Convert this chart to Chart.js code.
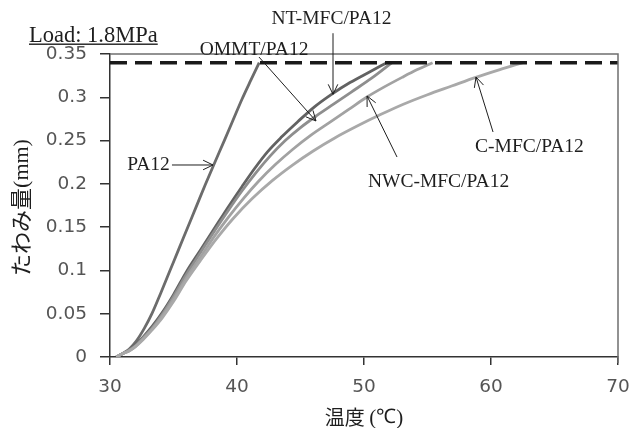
<!DOCTYPE html>
<html>
<head>
<meta charset="utf-8">
<script src="https://cdn.jsdelivr.net/npm/chart.js@4.4.1/dist/chart.umd.min.js"></script>
<style>
  body { margin: 0; background: #fff; }
  canvas { display: block; }
</style>
</head>
<body>
<canvas id="hdt-chart" width="635" height="428"></canvas>
<script>
// deflection (mm) vs temperature (°C)
var pa12Temp = [30.5, 31.0, 31.5, 32.1, 32.7, 33.3, 34.0, 34.7, 35.4, 36.1, 36.8, 37.5, 38.2, 39.0, 39.7, 40.4, 41.1, 41.75];
var pa12Defl = [0, 0.004, 0.009, 0.019, 0.033, 0.05, 0.074, 0.099, 0.124, 0.149, 0.174, 0.199, 0.223, 0.25, 0.274, 0.298, 0.32, 0.34];

var ntTemp = [30.5, 31.0, 31.5, 32.0, 32.6, 33.3, 34.1, 35.0, 36.0, 37.1, 38.2, 39.3, 40.4, 41.4, 42.4, 43.5, 44.8, 46.1, 47.5, 48.9, 50.4, 51.8];
var ntDefl = [0, 0.004, 0.008, 0.014, 0.023, 0.035, 0.051, 0.072, 0.098, 0.123, 0.148, 0.173, 0.197, 0.218, 0.237, 0.254, 0.272, 0.289, 0.304, 0.317, 0.329, 0.34];

var ommtTemp = [30.5, 31.0, 31.5, 32.0, 32.6, 33.3, 34.1, 35.0, 36.0, 37.1, 38.2, 39.3, 40.4, 41.5, 42.6, 43.8, 45.0, 46.3, 47.6, 49.0, 50.6, 52.2];
var ommtDefl = [0, 0.004, 0.008, 0.013, 0.022, 0.033, 0.049, 0.07, 0.095, 0.12, 0.145, 0.169, 0.192, 0.213, 0.232, 0.25, 0.265, 0.279, 0.292, 0.306, 0.322, 0.34];

var nwcTemp = [30.5, 31.0, 31.5, 32.0, 32.6, 33.3, 34.1, 35.0, 36.0, 37.1, 38.2, 39.3, 40.5, 41.7, 43.0, 44.4, 45.8, 47.3, 48.8, 50.2, 51.6, 53.0, 54.2, 55.4];
var nwcDefl = [0, 0.004, 0.007, 0.012, 0.021, 0.032, 0.047, 0.067, 0.091, 0.115, 0.139, 0.161, 0.183, 0.203, 0.222, 0.24, 0.256, 0.271, 0.286, 0.30, 0.312, 0.323, 0.332, 0.34];

var cmfcTemp = [30.5, 31.0, 31.5, 32.0, 32.6, 33.3, 34.1, 35.0, 36.0, 37.1, 38.3, 39.7, 41.2, 42.8, 44.4, 46.0, 47.7, 49.5, 51.3, 53.1, 55.0, 56.9, 58.8, 60.7, 62.5];
var cmfcDefl = [0, 0.004, 0.007, 0.012, 0.02, 0.031, 0.045, 0.064, 0.088, 0.111, 0.135, 0.16, 0.183, 0.204, 0.222, 0.238, 0.253, 0.267, 0.28, 0.292, 0.303, 0.313, 0.323, 0.332, 0.34];

var limitDefl = 0.34;
var xTicks = [30, 40, 50, 60, 70];
var yTicks = [0, 0.05, 0.1, 0.15, 0.2, 0.25, 0.3, 0.35];

// callouts, in data coordinates: label centre, arrow tail, arrow head
var callouts = [
  { text: 'NT-MFC/PA12',  lx: 47.44, ly: 0.390, from: [47.56, 0.374], to: [47.56, 0.3035] },
  { text: 'OMMT/PA12',    lx: 41.34, ly: 0.3546, from: [41.73, 0.3465], to: [46.22, 0.2726] },
  { text: 'PA12',         lx: 33.03, ly: 0.2218, from: [34.88, 0.2218], to: [38.11, 0.2218] },
  { text: 'NWC-MFC/PA12', lx: 55.87, ly: 0.2021, from: [52.60, 0.231], to: [50.24, 0.3015] },
  { text: 'C-MFC/PA12',   lx: 63.03, ly: 0.2426, from: [60.16, 0.2599], to: [58.82, 0.3234] }
];

function toPoints(xs, ys) {
  return xs.map(function (x, i) { return { x: x, y: ys[i] }; });
}

function curve(label, xs, ys, colour) {
  return {
    label: label,
    data: toPoints(xs, ys),
    borderColor: colour,
    borderWidth: 2.8,
    pointRadius: 0,
    cubicInterpolationMode: 'monotone',
    fill: false
  };
}

var serif = '"Liberation Serif", "Times New Roman", serif';
var gothic = '"Noto Sans CJK JP", "Noto Sans", sans-serif';

var decorations = {
  id: 'decorations',
  afterDatasetsDraw: function (chart) {
    var ctx = chart.ctx;
    var area = chart.chartArea;
    var xs = chart.scales.x, ys = chart.scales.y;

    // grey top/right frame
    ctx.save();
    ctx.strokeStyle = '#6f6f6f';
    ctx.lineWidth = 1.5;
    ctx.beginPath();
    ctx.moveTo(area.left, area.top);
    ctx.lineTo(area.right, area.top);
    ctx.lineTo(area.right, area.bottom + 6);
    ctx.stroke();
    ctx.restore();

    // callouts
    ctx.save();
    ctx.fillStyle = '#1e1e1e';
    ctx.strokeStyle = '#1e1e1e';
    ctx.lineWidth = 1;
    ctx.font = '19.5px ' + serif;
    ctx.textAlign = 'center';
    ctx.textBaseline = 'middle';
    callouts.forEach(function (c) {
      ctx.fillText(c.text, xs.getPixelForValue(c.lx), ys.getPixelForValue(c.ly));
      var x0 = xs.getPixelForValue(c.from[0]), y0 = ys.getPixelForValue(c.from[1]);
      var x1 = xs.getPixelForValue(c.to[0]), y1 = ys.getPixelForValue(c.to[1]);
      var a = Math.atan2(y1 - y0, x1 - x0);
      ctx.beginPath();
      ctx.moveTo(x0, y0);
      ctx.lineTo(x1, y1);
      ctx.moveTo(x1 - 11 * Math.cos(a - 0.45), y1 - 11 * Math.sin(a - 0.45));
      ctx.lineTo(x1, y1);
      ctx.lineTo(x1 - 11 * Math.cos(a + 0.45), y1 - 11 * Math.sin(a + 0.45));
      ctx.stroke();
    });
    ctx.restore();
  },
  afterDraw: function (chart) {
    var ctx = chart.ctx;
    var area = chart.chartArea;

    // load note, underlined
    ctx.save();
    ctx.fillStyle = '#1e1e1e';
    ctx.font = '22.5px ' + serif;
    ctx.textAlign = 'left';
    ctx.textBaseline = 'alphabetic';
    var note = 'Load: 1.8MPa';
    ctx.fillText(note, 29, 42);
    var w = ctx.measureText(note).width;
    ctx.fillRect(29, 43.5, w, 1.4);
    ctx.restore();

    // mixed-font axis titles
    function mixed(parts, cx, cy, rot) {
      ctx.save();
      ctx.translate(cx, cy);
      ctx.rotate(rot);
      ctx.textBaseline = 'middle';
      ctx.textAlign = 'left';
      ctx.fillStyle = '#1e1e1e';
      var total = 0;
      parts.forEach(function (p) { ctx.font = p.font; total += ctx.measureText(p.text).width; });
      var x = -total / 2;
      parts.forEach(function (p) {
        ctx.font = p.font;
        ctx.fillText(p.text, x, p.dy || 0);
        x += ctx.measureText(p.text).width;
      });
      ctx.restore();
    }
    mixed([
      { text: 'たわみ量', font: '22px ' + gothic },
      { text: '(mm)', font: '22px ' + serif, dy: 1 }
    ], area.left - 89, (area.top + area.bottom) / 2 + 2, -Math.PI / 2);
    mixed([
      { text: '温度 ', font: '20px ' + gothic },
      { text: '(', font: '21px ' + serif, dy: 1 },
      { text: '℃', font: '20px ' + serif, dy: 1 },
      { text: ')', font: '21px ' + serif, dy: 1 }
    ], (area.left + area.right) / 2, area.bottom + 60, 0);
  }
};

var ctx = document.getElementById('hdt-chart').getContext('2d');
new Chart(ctx, {
  type: 'line',
  data: {
    datasets: [
      {
        label: 'limit',
        data: [{ x: xTicks[0], y: limitDefl }, { x: xTicks[xTicks.length - 1], y: limitDefl }],
        borderColor: '#1a1a1a',
        borderWidth: 3.5,
        borderDash: [17, 8],
        pointRadius: 0,
        clip: 6
      },
      curve('C-MFC/PA12', cmfcTemp, cmfcDefl, '#a9a9a9'),
      curve('NWC-MFC/PA12', nwcTemp, nwcDefl, '#a2a2a2'),
      curve('OMMT/PA12', ommtTemp, ommtDefl, '#8e8e8e'),
      curve('NT-MFC/PA12', ntTemp, ntDefl, '#626262'),
      curve('PA12', pa12Temp, pa12Defl, '#6c6c6c')
    ]
  },
  options: {
    responsive: false,
    animation: false,
    layout: { padding: { top: 54, right: 17, left: 0, bottom: 0 } },
    plugins: { legend: { display: false }, tooltip: { enabled: false } },
    scales: {
      x: {
        type: 'linear',
        min: xTicks[0],
        max: xTicks[xTicks.length - 1],
        afterBuildTicks: function (s) { s.ticks = xTicks.map(function (v) { return { value: v }; }); },
        afterFit: function (s) { s.height = 71; s.paddingRight = 0; },
        ticks: { color: '#555', font: { family: '"DejaVu Sans", sans-serif', size: 18.5 }, padding: 11, maxRotation: 0 },
        grid: { drawOnChartArea: false, tickLength: 8, color: '#333', lineWidth: 1.5 },
        border: { color: '#333', width: 1.5 }
      },
      y: {
        min: yTicks[0],
        max: yTicks[yTicks.length - 1],
        afterBuildTicks: function (s) { s.ticks = yTicks.map(function (v) { return { value: v }; }); },
        afterFit: function (s) { s.width = 110; },
        ticks: {
          color: '#555',
          font: { family: '"DejaVu Sans", sans-serif', size: 18.5 },
          padding: 13,
          callback: function (v) { return String(Math.round(v * 100) / 100); }
        },
        grid: { drawOnChartArea: false, tickLength: 10, color: '#333', lineWidth: 1.5 },
        border: { color: '#333', width: 1.5 }
      }
    }
  },
  plugins: [decorations]
});
</script>
</body>
</html>
